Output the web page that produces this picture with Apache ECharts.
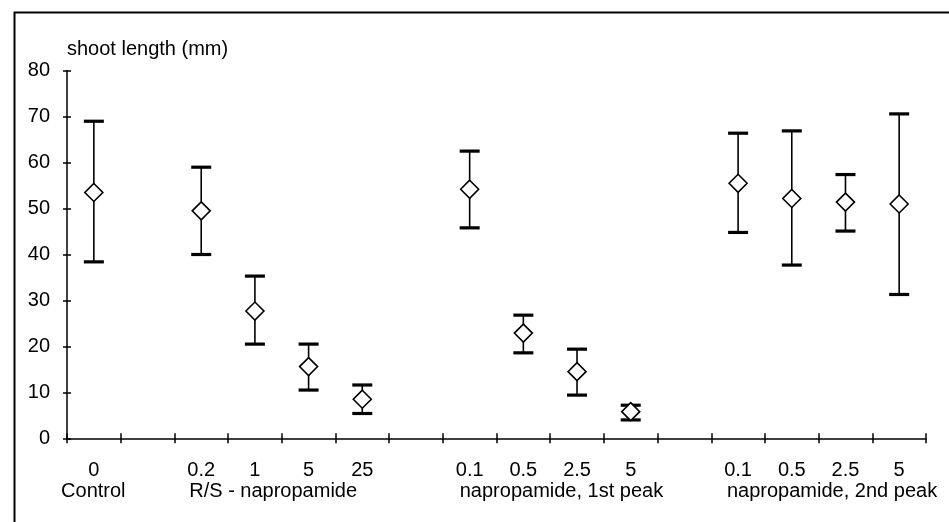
<!DOCTYPE html>
<html><head><meta charset="utf-8">
<script src="https://cdn.jsdelivr.net/npm/echarts@6/dist/echarts.min.js"></script>
<style>html,body{margin:0;padding:0;background:#fff}#c{width:949px;height:522px}</style>
</head><body><div id="c"></div>
<script>
// ---- data ----
const categories = ['0','','0.2','1','5','25','','0.1','0.5','2.5','5','','0.1','0.5','2.5','5'];
const pointCats  = [0, 2, 3, 4, 5, 7, 8, 9, 10, 12, 13, 14, 15];
const means      = [53.5, 49.5, 27.7, 15.6, 8.5, 54.2, 22.9, 14.5, 5.8, 55.5, 52.2, 51.4, 51.0];
const upper      = [69.0, 59.0, 35.3, 20.5, 11.6, 62.5, 26.8, 19.4, 7.2, 66.4, 66.9, 57.4, 70.6];
const lower      = [38.4, 40.0, 20.5, 10.5, 5.4, 45.8, 18.6, 9.4, 4.0, 44.8, 37.7, 45.1, 31.3];
const groupNames   = ['Control', 'R/S - napropamide', 'napropamide, 1st peak', 'napropamide, 2nd peak'];
const groupCenters = [0.49, 3.84, 9.21, 14.25];
const yMin = 0, yMax = 80, yStep = 10;
const yTitle = 'shoot length (mm)';

// ---- chart ----
const FONT = 'Liberation Sans, Arial, Helvetica, sans-serif';
const FS = 20;
const chart = echarts.init(document.getElementById('c'), null, {renderer: 'canvas'});
const boundaries = [];
for (let i = 0; i <= categories.length; i++) boundaries.push(i);

const errData = pointCats.map((c, i) => [c, lower[i], upper[i]]);
const meanData = pointCats.map((c, i) => [c, means[i]]);

chart.setOption({
  animation: false,
  backgroundColor: '#fff',
  graphic: [{
    type: 'rect', left: 12, top: 10,
    shape: {width: 960, height: 540},
    style: {fill: 'none', stroke: '#000', lineWidth: 2},
    silent: true
  }],
  grid: {left: 67, right: 23, top: 70.7, bottom: 83.7, containLabel: false},
  xAxis: [{
    type: 'category', data: categories, boundaryGap: true,
    axisLine: {lineStyle: {color: '#000', width: 1.5}},
    axisTick: {show: true, interval: 0, alignWithLabel: false, length: 5, lineStyle: {color: '#000', width: 1.5}},
    axisLabel: {interval: 0, margin: 22, fontSize: FS, color: '#000', fontFamily: FONT},
    splitLine: {show: false}
  }, {
    type: 'value', min: 0, max: categories.length, position: 'bottom',
    axisLine: {show: false},
    axisTick: {show: true, inside: true, length: 5, customValues: boundaries, lineStyle: {color: '#000', width: 1.5}},
    axisLabel: {
      customValues: groupCenters, margin: 43, fontSize: FS, color: '#000', fontFamily: FONT,
      formatter: v => { const i = groupCenters.findIndex(g => Math.abs(g - v) < 1e-6); return i >= 0 ? groupNames[i] : ''; }
    },
    splitLine: {show: false}
  }],
  yAxis: [{
    type: 'value', min: yMin, max: yMax, interval: yStep,
    name: yTitle, nameLocation: 'end', nameGap: 21,
    nameTextStyle: {align: 'left', verticalAlign: 'middle', fontSize: FS, color: '#000', fontFamily: FONT},
    axisLine: {show: true, lineStyle: {color: '#000', width: 1.5}},
    axisTick: {show: true, length: 4, lineStyle: {color: '#000', width: 1.5}},
    axisLabel: {margin: 17, fontSize: FS, color: '#000', fontFamily: FONT},
    splitLine: {show: false}
  }, {
    type: 'value', min: yMin, max: yMax, interval: yStep, position: 'left',
    axisLine: {show: false},
    axisTick: {show: true, inside: true, length: 4, lineStyle: {color: '#000', width: 1.5}},
    axisLabel: {show: false},
    splitLine: {show: false}
  }],
  series: [{
    type: 'custom', xAxisIndex: 0, yAxisIndex: 0, z: 2,
    data: errData,
    renderItem: (params, api) => {
      const x = api.value(0);
      const lo = api.coord([x, api.value(1)]);
      const hi = api.coord([x, api.value(2)]);
      const hw = 10;
      return {
        type: 'group',
        children: [
          {type: 'line', shape: {x1: hi[0], y1: hi[1], x2: lo[0], y2: lo[1]}, style: {stroke: '#000', lineWidth: 1.6}},
          {type: 'line', shape: {x1: hi[0] - hw, y1: hi[1], x2: hi[0] + hw, y2: hi[1]}, style: {stroke: '#000', lineWidth: 3.2}},
          {type: 'line', shape: {x1: lo[0] - hw, y1: lo[1], x2: lo[0] + hw, y2: lo[1]}, style: {stroke: '#000', lineWidth: 3.2}}
        ]
      };
    }
  }, {
    type: 'scatter', xAxisIndex: 0, yAxisIndex: 0, z: 3,
    data: meanData,
    symbol: 'diamond', symbolSize: 18,
    itemStyle: {color: '#fff', borderColor: '#000', borderWidth: 1.6, opacity: 1}
  }]
});
</script></body></html>
